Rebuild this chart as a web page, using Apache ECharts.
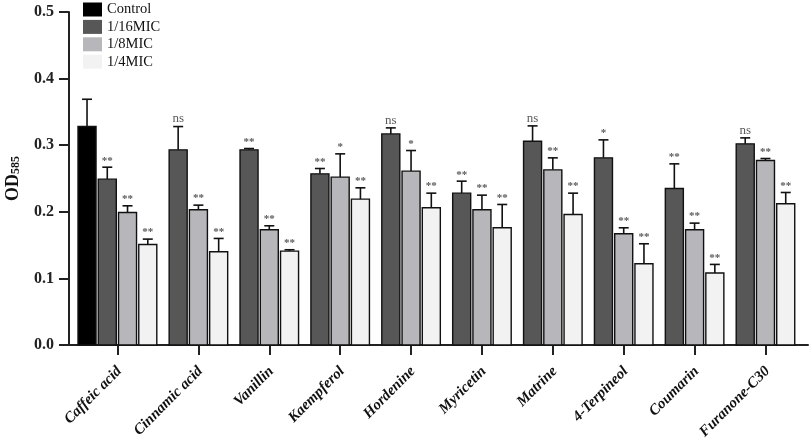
<!DOCTYPE html>
<html>
<head>
<meta charset="utf-8">
<script src="https://cdn.jsdelivr.net/npm/echarts@6/dist/echarts.min.js"></script>
<style>html,body{margin:0;padding:0;background:#fff;}#c{width:809px;height:438px;}</style>
</head>
<body>
<div id="c"></div>
<script>
const categories = ['Caffeic acid','Cinnamic acid','Vanillin','Kaempferol','Hordenine','Myricetin','Matrine','4-Terpineol','Coumarin','Furanone-C30'];
const seriesNames = ['Control','1/16MIC','1/8MIC','1/4MIC'];
const yTicks = [0, 0.1, 0.2, 0.3, 0.4, 0.5];

// Control measured only for Caffeic acid
const control    = [0.328];
const controlErr = [0.041];
const mic16    = [0.249,0.293,0.293,0.257,0.317,0.228,0.306,0.281,0.235,0.302];
const mic16Err = [0.018,0.035,0.002,0.008,0.009,0.018,0.023,0.027,0.037,0.009];
const mic8     = [0.199,0.203,0.173,0.252,0.261,0.203,0.263,0.167,0.173,0.277];
const mic8Err  = [0.010,0.007,0.006,0.035,0.031,0.022,0.018,0.009,0.010,0.003];
const mic4     = [0.151,0.140,0.141,0.219,0.206,0.176,0.196,0.122,0.108,0.212];
const mic4Err  = [0.008,0.020,0.002,0.017,0.022,0.035,0.032,0.030,0.013,0.017];
const sig16 = ['**','ns','**','**','ns','**','ns','*','**','ns'];
const sig8  = ['**','**','**','*','*','**','**','**','**','**'];
const sig4  = ['**','**','**','**','**','**','**','**','**','**'];
const sigControl = [''];

// layout (slot units)
const colors = ['#000000','#575757','#b7b7bb','#f2f2f2'];
const BAR_W = 0.89;
const LABEL_SHIFT = 0.1;
function groupStart(i){ return i === 0 ? 0 : 4.5 + 3.5*(i-1); }
function slotX(i, s){ // s: series index 0..3
  if (i === 0) return s;
  return groupStart(i) + (s - 1);
}
const centers = categories.map((c,i) => i === 0 ? 1.5 : groupStart(i) + 1);
const labelPos = centers.map(c => c + LABEL_SHIFT);

const vals = [control, mic16, mic8, mic4];
const errs = [controlErr, mic16Err, mic8Err, mic4Err];
const sigs = [sigControl, sig16, sig8, sig4];

function makeData(s){
  return vals[s].map((v,i) => [slotX(i,s), v, errs[s][i]]);
}

function renderItem(params, api){
  const s = params.seriesIndex;
  const x = api.value(0), y = api.value(1), e = api.value(2);
  const base = api.coord([x, 0]);
  const top = api.coord([x, y]);
  const et = api.coord([x, y + e]);
  const w = api.size([BAR_W, 0])[0];
  const sig = sigs[s][params.dataIndex] || '';
  const children = [
    { type:'line', shape:{x1:top[0], y1:top[1], x2:et[0], y2:et[1]}, style:{stroke:'#111', lineWidth:1.6} },
    { type:'line', shape:{x1:et[0]-5, y1:et[1], x2:et[0]+5, y2:et[1]}, style:{stroke:'#111', lineWidth:1.6} },
    { type:'rect', shape:{x:base[0]-w/2, y:top[1], width:w, height:base[1]-top[1]},
      style:{fill:colors[s], stroke:'#111', lineWidth:1.4} }
  ];
  if (sig) {
    children.push({ type:'text', x:et[0], y:et[1]-1,
      style:{ text:sig, fill:'#5a5a5a', align:'center', verticalAlign:'bottom',
        font: (sig === 'ns' ? '13px' : 'bold 11px') + ' "Liberation Serif", serif' } });
  }
  return { type:'group', children };
}

const chart = echarts.init(document.getElementById('c'));
chart.setOption({
  animation:false,
  backgroundColor:'#fff',
  legend:{
    orient:'vertical', left:78, top:-3, itemWidth:19, itemHeight:14, itemGap:2.4,
    icon:'rect', data:seriesNames,
    textStyle:{fontFamily:'"Liberation Serif", serif', fontSize:14.5, color:'#111'}
  },
  grid:{left:69, right:1, top:12, bottom:93, containLabel:false, outerBoundsMode:'none'},
  xAxis:{
    type:'value', min:-0.89, max:35.6,
    splitLine:{show:false},
    axisLine:{show:true, onZero:false, lineStyle:{color:'#222', width:2}},
    axisTick:{show:true, customValues:centers, length:10, lineStyle:{color:'#222', width:2}},
    axisLabel:{
      customValues:labelPos, rotate:45, margin:24,
      formatter:(v) => { const k = labelPos.findIndex(p => Math.abs(p - v) < 1e-6); return k >= 0 ? categories[k] : ''; },
      fontFamily:'"Liberation Serif", serif', fontWeight:'bold', fontStyle:'italic', fontSize:15, color:'#111'
    }
  },
  yAxis:{
    type:'value', min:0, max:0.5, interval:0.1,
    name:'{a|OD}{b|585}', nameLocation:'middle', nameGap:47,
    nameTextStyle:{ rich:{
      a:{fontFamily:'"Liberation Serif", serif', fontWeight:'bold', fontSize:18, color:'#111'},
      b:{fontFamily:'"Liberation Serif", serif', fontWeight:'bold', fontSize:12, color:'#111', verticalAlign:'bottom', padding:[6,0,0,0]}
    }},
    splitLine:{show:false},
    axisLine:{show:true, onZero:false, lineStyle:{color:'#222', width:2}},
    axisTick:{show:true, length:10, lineStyle:{color:'#222', width:2}},
    axisLabel:{
      formatter:(v) => v.toFixed(1), margin:15,
      fontFamily:'"Liberation Serif", serif', fontWeight:'bold', fontSize:16, color:'#222'
    }
  },
  series: seriesNames.map((n,s) => ({
    name:n, type:'custom', renderItem, data:makeData(s),
    itemStyle:{color:colors[s]},
    encode:{x:0, y:1}
  }))
});
</script>
</body>
</html>
